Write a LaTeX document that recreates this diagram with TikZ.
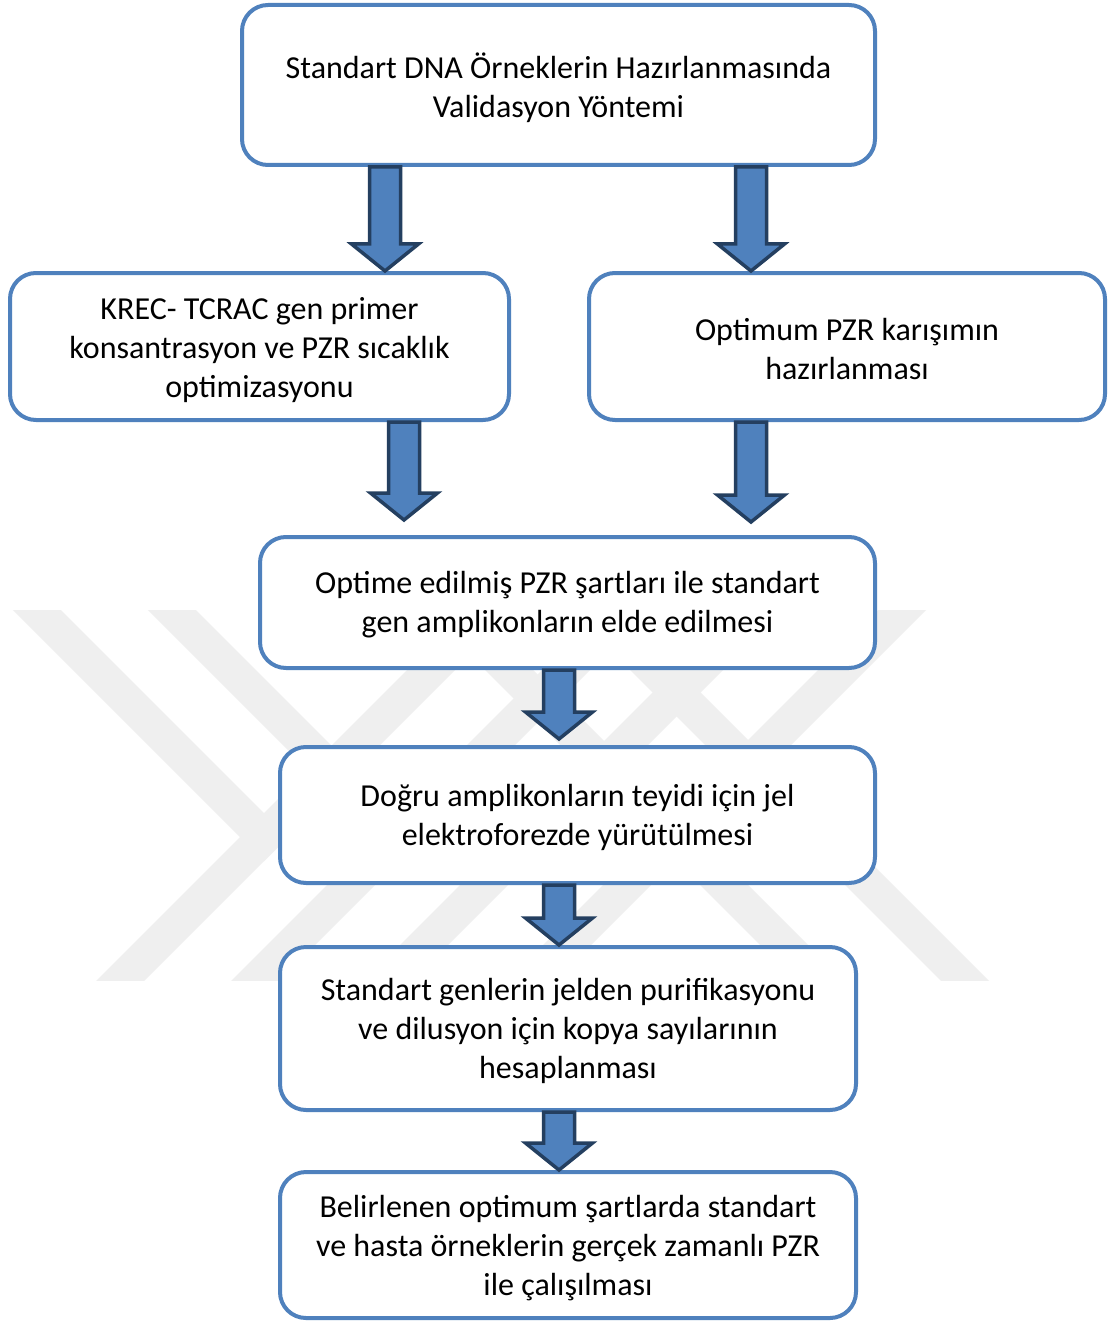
\documentclass[tikz,border=0pt]{standalone}
\usepackage{fontspec}
\setmainfont{Carlito}
\usetikzlibrary{calc}
\definecolor{boxblue}{HTML}{4F81BD}
\definecolor{arrowedge}{HTML}{243F60}
\definecolor{wmgray}{HTML}{EFEFEF}
\newcommand\fatarrow[2]{%
  \draw[fatarr] let \p1=(#1), \p2=(#2) in
    (\x1-15.5pt,\y1) -- (\x1+15.5pt,\y1) -- (\x1+15.5pt,\y2+27pt) -- (\x1+33.5pt,\y2+27pt)
    -- (\x1,\y2) -- (\x1-33.5pt,\y2+27pt) -- (\x1-15.5pt,\y2+27pt) -- cycle;}
\begin{document}
\begin{tikzpicture}[x=1pt,y=-1pt,
  flowbox/.style={draw=boxblue, line width=4pt, rounded corners=26pt, fill=white, inner sep=0pt},
  boxtext/.style={align=center, inner sep=0pt, font=\fontsize{32}{39}\selectfont},
  fatarr/.style={fill=boxblue, draw=arrowedge, line width=3.5pt, line join=miter},
  wm/.style={fill=wmgray}]
\useasboundingbox (0,0) rectangle (1110,1324);
\fill[white] (0,0) rectangle (1110,1324);
% watermark
\begin{scope}
  \clip (0,610) rectangle (1110,980);
  % "/" stripes
  \foreach \a in {1077,1212,1345,1488}{
    \fill[wm] (\a-600,600) -- (\a+48-600,600) -- (\a+48-990,990) -- (\a-990,990) -- cycle;}
  % "\" stripes, full
  \foreach \c in {-185,-40}{
    \fill[wm] (\c+600,600) -- (\c+48+600,600) -- (\c+48+990,990) -- (\c+990,990) -- cycle;}
  % chevron arms
  \fill[wm] (3,600) -- (51,600) -- (288,837) -- (264,861) -- cycle;
  \fill[wm] (138,600) -- (186,600) -- (423,837) -- (399,861) -- cycle;
\end{scope}
% boxes
\node[flowbox, minimum width=633, minimum height=160] (b1) at (558.5,85) {};
\node[flowbox, minimum width=499, minimum height=147] (b2) at (259.5,346.5) {};
\node[flowbox, minimum width=516, minimum height=147] (b3) at (847,346.5) {};
\node[flowbox, minimum width=615, minimum height=131] (b4) at (567.5,602.5) {};
\node[flowbox, minimum width=595, minimum height=136] (b5) at (577.5,815) {};
\node[flowbox, minimum width=576, minimum height=163] (b6) at (568,1028.5) {};
\node[flowbox, minimum width=576, minimum height=146] (b7) at (568,1245) {};
% texts
\node[boxtext] (t1) at ([yshift=-2.5pt]b1.center)
  {Standart DNA Örneklerin Hazırlanmasında\\Validasyon Yöntemi};
\node[boxtext] (t2) at ([yshift=-4pt]b2.center)
  {KREC- TCRAC gen primer\\konsantrasyon ve PZR sıcaklık\\optimizasyonu};
\node[boxtext] (t3) at ([yshift=-2.5pt]b3.center)
  {Optimum PZR karışımın\\hazırlanması};
\node[boxtext] (t4) at ([yshift=-2.5pt]b4.center)
  {Optime edilmiş PZR şartları ile standart\\gen amplikonların elde edilmesi};
\node[boxtext] (t5) at ([yshift=-2.5pt]b5.center)
  {Doğru amplikonların teyidi için jel\\elektroforezde yürütülmesi};
\node[boxtext] (t6) at ([yshift=-2.5pt]b6.center)
  {Standart genlerin jelden purifikasyonu\\ve dilusyon için kopya sayılarının\\hesaplanması};
\node[boxtext] (t7) at ([yshift=-3pt]b7.center)
  {Belirlenen optimum şartlarda standart\\ve hasta örneklerin gerçek zamanlı PZR\\ile çalışılması};
% arrow x positions
\coordinate (xL) at (385,0);
\coordinate (xR) at (751,0);
\coordinate (xL2) at (404,0);
\coordinate (xC) at (559,0);
% arrows
\fatarrow{b1.south -| xL}{b2.north}
\fatarrow{b1.south -| xR}{b3.north}
\fatarrow{b2.south -| xL2}{[yshift=15pt]b4.north}
\fatarrow{b3.south -| xR}{[yshift=13pt]b4.north}
\fatarrow{b4.south -| xC}{[yshift=6pt]b5.north}
\fatarrow{b5.south -| xC}{b6.north}
\fatarrow{b6.south -| xC}{b7.north}
\end{tikzpicture}
\end{document}
